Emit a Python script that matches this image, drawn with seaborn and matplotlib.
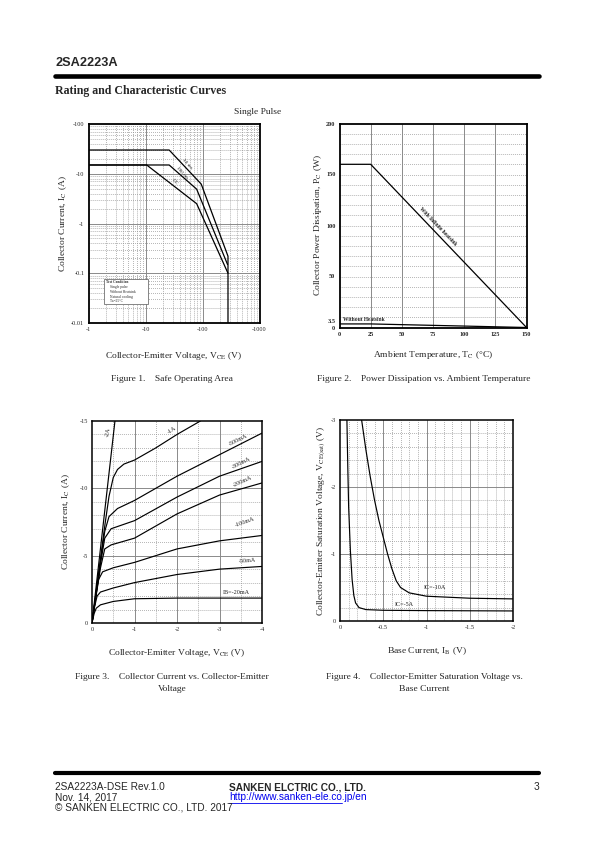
import numpy as np
import pandas as pd
import matplotlib
matplotlib.use("Agg")
import matplotlib.pyplot as plt
import seaborn as sns
from matplotlib.lines import Line2D
from matplotlib.patches import Rectangle

# ---------------- data ----------------
# Figure 1: safe operating area (|VCE| V, |IC| A)
soa_10ms_v = [1, 26, 95, 280, 280]
soa_10ms_i = [30, 30, 6.2, 0.22, 0.01]
soa_100ms_v = [1, 26, 79, 275]
soa_100ms_i = [15, 15, 4.9, 0.15]
soa_dc_v = [1, 10.5, 79, 280]
soa_dc_i = [15, 15, 2.5, 0.1]
soa_xticks = [1, 10, 100, 1000]
soa_xlabels = ["-1", "-10", "-100", "-1000"]
soa_yticks = [0.01, 0.1, 1, 10, 100]
soa_ylabels = ["-0.01", "-0.1", "-1", "-10", "-100"]
soa_conditions = ["Test Condition", "Single pulse", "Without Heatsink", "Natural cooling", "Ta=25°C"]

# Figure 2: power derating
ta = [0, 25, 150]
pc_infinite = [160, 160, 0]
pc_no_sink = [3.5, 3.5, 0]
pc_xticks = [0, 25, 50, 75, 100, 125, 150]
pc_yticks = [0, 3.5, 50, 100, 150, 200]
pc_ylabels = ["0", "3.5", "50", "100", "150", "200"]

# Figure 3: output characteristics (|VCE| V, |IC| A)
ib_2a_v = [0, 0.54]
ib_2a_i = [0, 15]
ib_1a_v = [0, 0.1, 0.2, 0.3, 0.4, 0.5, 0.6, 0.75, 1.0, 1.5, 2.0, 2.55]
ib_1a_i = [0, 2.4, 4.8, 7.2, 9.4, 10.8, 11.4, 11.8, 12.1, 13.0, 14.0, 15.0]
ib_500_v = [0, 0.1, 0.2, 0.3, 0.4, 0.6, 1.0, 2.0, 3.0, 4.0]
ib_500_i = [0, 2.3, 4.6, 6.8, 7.9, 8.5, 9.1, 10.9, 12.5, 14.1]
ib_300_v = [0, 0.1, 0.2, 0.3, 0.45, 1.0, 2.0, 3.0, 4.0]
ib_300_i = [0, 2.2, 4.4, 6.3, 7.0, 7.6, 9.35, 10.9, 12.0]
ib_200_v = [0, 0.1, 0.2, 0.3, 0.45, 1.0, 2.0, 3.0, 4.0]
ib_200_i = [0, 2.1, 4.1, 5.5, 5.8, 6.3, 8.1, 9.5, 10.4]
ib_100_v = [0, 0.08, 0.15, 0.25, 0.5, 1.0, 2.0, 3.0, 4.0]
ib_100_i = [0, 1.8, 3.2, 3.8, 4.1, 4.5, 5.5, 6.1, 6.5]
ib_50_v = [0, 0.06, 0.12, 0.2, 0.5, 1.0, 2.0, 3.0, 4.0]
ib_50_i = [0, 1.2, 2.0, 2.3, 2.6, 3.0, 3.6, 4.0, 4.2]
ib_20_v = [0, 0.05, 0.1, 0.2, 0.5, 1.0, 2.0, 3.0, 4.0]
ib_20_i = [0, 0.7, 1.1, 1.35, 1.6, 1.8, 1.85, 1.85, 1.85]
ib_names = ["-2A", "-1A", "-500mA", "-300mA", "-200mA", "-100mA", "-50mA", "IB=-20mA"]
vce_xlabels = ["0", "-1", "-2", "-3", "-4"]
ic_ylabels = ["0", "-5", "-10", "-15"]

# Figure 4: saturation voltage (|IB| A, |VCE(sat)| V)
sat_5a_ib = [0.08, 0.09, 0.1, 0.12, 0.14, 0.16, 0.18, 0.22, 0.3, 0.5, 1.0, 2.0]
sat_5a_v = [3.0, 2.3, 1.7, 1.05, 0.62, 0.38, 0.27, 0.2, 0.17, 0.16, 0.155, 0.15]
sat_10a_ib = [0.25, 0.3, 0.35, 0.4, 0.45, 0.5, 0.55, 0.6, 0.65, 0.7, 0.8, 1.0, 1.5, 2.0]
sat_10a_v = [3.0, 2.55, 2.15, 1.8, 1.5, 1.25, 1.0, 0.78, 0.6, 0.5, 0.42, 0.37, 0.34, 0.33]
ib_xlabels = ["0", "-0.5", "-1", "-1.5", "-2"]
sat_ylabels = ["0", "-1", "-2", "-3"]

# ---------------- style ----------------
sns.set_style("white")
plt.rcParams["font.family"] = ["Liberation Serif", "DejaVu Serif"]
plt.rcParams["mathtext.fontset"] = "stix"

W, H = 595, 842
fig = plt.figure(figsize=(W / 100, H / 100), dpi=100)
GRID = "#8a8a8a"
DOT = (0, (1, 1.6))
LABEL = 6.8


def page_axes(x0, y0, x1, y1):
    return fig.add_axes([x0 / W, 1 - y1 / H, (x1 - x0) / W, (y1 - y0) / H])


def ftext(x, y, s, **kw):
    fig.text(x / W, 1 - y / H, s, **kw)


def frame(ax, lw=1.0):
    for sp in ax.spines.values():
        sp.set_visible(True)
        sp.set_color("black")
        sp.set_linewidth(lw)
    ax.tick_params(length=0, labelsize=4.5, pad=3)


def curve(ax, x, y, lw=0.9):
    sns.lineplot(x=x, y=y, ax=ax, color="black", lw=lw, sort=False, estimator=None)


# header / footer
ftext(55, 63.5, "2SA2223A", family="Liberation Sans", weight="bold", fontsize=9.2, va="center")
fig.add_artist(Line2D([55 / W, 539 / W], [1 - 75.5 / H] * 2, color="black", lw=3.3))
ftext(55, 91, "Rating and Characteristic Curves", weight="bold", fontsize=8.6, va="center")
fig.add_artist(Line2D([55 / W, 539 / W], [1 - 772.5 / H] * 2, color="black", lw=3.0))
FOOT = dict(family="Liberation Sans", fontsize=7.3, va="center")
ftext(55, 787, "2SA2223A-DSE Rev.1.0", **FOOT)
ftext(55, 797.5, "Nov. 14, 2017", **FOOT)
ftext(55, 808, "© SANKEN ELECTRIC CO., LTD. 2017", **FOOT)
ftext(229, 787, "SANKEN ELCTRIC CO., LTD.", weight="bold", **FOOT)
ftext(229, 797.5, "http://www.sanken-ele.co.jp/en", color="#0000ee", **FOOT)
fig.add_artist(Line2D([229 / W, 342 / W], [1 - 802.5 / H] * 2, color="#0000ee", lw=0.6))
ftext(539, 787, "3", ha="right", **FOOT)

# ---------------- Figure 1 ----------------
ax1 = page_axes(88.5, 124, 259.5, 323)
ax1.set_xscale("log")
ax1.set_yscale("log")
ax1.set_xlim(1, 1000)
ax1.set_ylim(0.01, 100)
for d in [1, 10, 100]:
    for m in range(2, 10):
        ax1.axvline(d * m, color=GRID, lw=0.55, ls=DOT, zorder=0)
    if d > 1:
        ax1.axvline(d, color=GRID, lw=0.7, zorder=0)
for d in [0.01, 0.1, 1, 10]:
    for m in range(2, 10):
        ax1.axhline(d * m, color=GRID, lw=0.55, ls=DOT, zorder=0)
    if d > 0.01:
        ax1.axhline(d, color=GRID, lw=0.7, zorder=0)
curve(ax1, soa_10ms_v, soa_10ms_i)
curve(ax1, soa_100ms_v, soa_100ms_i)
curve(ax1, soa_dc_v, soa_dc_i)
ax1.set_xticks(soa_xticks, soa_xlabels)
ax1.set_yticks(soa_yticks, soa_ylabels)
ax1.minorticks_off()
frame(ax1, 1.3)
for s, xv, yv in [("10 ms", 53, 15.5), ("100 ms", 43, 10.3), ("DC", 33, 6.8)]:
    ax1.text(xv, yv, s, fontsize=3.8, rotation=-47, ha="center", va="center")
ax1.add_patch(Rectangle((0.09, 0.095), 0.26, 0.126, transform=ax1.transAxes,
                        facecolor="white", edgecolor="#555555", lw=0.5, zorder=3))
for k, s in enumerate(soa_conditions):
    ax1.text(0.105 if k == 0 else 0.125, 0.205 - k * 0.024, s, transform=ax1.transAxes,
             fontsize=2.6, va="center", zorder=4, weight="bold" if k == 0 else "normal")
ax1.set_xlabel(r"Collector-Emitter Voltage, V$_{\rm CE}$ (V)", fontsize=LABEL, labelpad=12.5)
ax1.set_ylabel(r"Collector Current, I$_{\rm C}$ (A)", fontsize=LABEL, labelpad=1.5)
ftext(281, 112, "Single Pulse", fontsize=LABEL, ha="right", va="center")
ftext(172, 379, "Figure 1.    Safe Operating Area", fontsize=LABEL, ha="center", va="center")

# ---------------- Figure 2 ----------------
ax2 = page_axes(339.5, 123.5, 526.5, 327.5)
ax2.set_xlim(0, 150)
ax2.set_ylim(0, 200)
for xv in range(25, 150, 25):
    ax2.axvline(xv, color=GRID, lw=0.7, zorder=0)
for yv in range(10, 200, 10):
    ax2.axhline(yv, color=GRID, lw=0.55, ls=DOT, zorder=0)
curve(ax2, ta, pc_infinite, 0.9)
curve(ax2, ta, pc_no_sink, 0.9)
ax2.set_xticks(pc_xticks, [str(v) for v in pc_xticks])
ax2.set_yticks(pc_yticks, pc_ylabels)
frame(ax2, 1.3)
for lab in ax2.get_xticklabels() + ax2.get_yticklabels():
    lab.set_fontweight("bold")
ax2.get_yticklabels()[1].set_va("bottom")
ax2.text(79, 99, "With Infinite heatsink", fontsize=4.0, rotation=-46, ha="center", va="center",
         weight="bold")
ax2.text(3, 7.5, "Without Heatsink", fontsize=4.0, ha="left", va="center", weight="bold")
ax2.set_xlabel(r"Ambient Temperature, T$_{\rm C}$ (°C)", fontsize=LABEL, labelpad=9)
ax2.set_ylabel(r"Collector Power Dissipation, P$_{\rm C}$ (W)", fontsize=LABEL, labelpad=1.5)
ftext(424, 379, "Figure 2.    Power Dissipation vs. Ambient Temperature", fontsize=LABEL,
      ha="center", va="center")

# ---------------- Figure 3 ----------------
ax3 = page_axes(92, 421, 262, 623)
ax3.set_xlim(0, 4)
ax3.set_ylim(0, 15)
for xv in np.arange(0.5, 4, 0.5):
    ax3.axvline(xv, color=GRID, lw=0.7 if xv % 1 == 0 else 0.55, ls="-" if xv % 1 == 0 else DOT, zorder=0)
for yv in range(1, 15):
    ax3.axhline(yv, color=GRID, lw=0.7 if yv % 5 == 0 else 0.55, ls="-" if yv % 5 == 0 else DOT, zorder=0)
for xs, ys in [(ib_2a_v, ib_2a_i), (ib_1a_v, ib_1a_i), (ib_500_v, ib_500_i), (ib_300_v, ib_300_i),
               (ib_200_v, ib_200_i), (ib_100_v, ib_100_i), (ib_50_v, ib_50_i), (ib_20_v, ib_20_i)]:
    curve(ax3, xs, ys, 0.85)
ax3.set_xticks(range(5), vce_xlabels)
ax3.set_yticks([0, 5, 10, 15], ic_ylabels)
frame(ax3, 1.1)
ib_lab_pos = [(0.38, 14.2, 80), (1.88, 14.3, 33), (3.45, 13.6, 27), (3.5, 11.9, 27),
              (3.55, 10.5, 24), (3.6, 7.5, 20), (3.65, 4.6, 5), (3.4, 2.3, 0)]
for s, (xv, yv, r) in zip(ib_names, ib_lab_pos):
    ax3.text(xv, yv, s, fontsize=4.4, rotation=r, ha="center", va="center")
ax3.set_xlabel(r"Collector-Emitter Voltage, V$_{\rm CE}$ (V)", fontsize=LABEL, labelpad=11)
ax3.set_ylabel(r"Collector Current, I$_{\rm C}$ (A)", fontsize=LABEL, labelpad=5.5)
ftext(172, 677, "Figure 3.    Collector Current vs. Collector-Emitter", fontsize=LABEL,
      ha="center", va="center")
ftext(172, 689, "Voltage", fontsize=LABEL, ha="center", va="center")

# ---------------- Figure 4 ----------------
ax4 = page_axes(340, 420, 513, 621)
ax4.set_xlim(0, 2)
ax4.set_ylim(0, 3)
for xv in np.arange(0.1, 2.0, 0.1):
    major = abs(xv * 2 - round(xv * 2)) < 1e-6
    ax4.axvline(xv, color=GRID, lw=0.7 if major else 0.55, ls="-" if major else DOT, zorder=0)
for yv in np.arange(0.2, 3.0, 0.2):
    major = abs(yv - round(yv)) < 1e-6
    ax4.axhline(yv, color=GRID, lw=0.7 if major else 0.55, ls="-" if major else DOT, zorder=0)
curve(ax4, sat_5a_ib, sat_5a_v, 0.85)
curve(ax4, sat_10a_ib, sat_10a_v, 0.85)
ax4.set_xticks([0, 0.5, 1, 1.5, 2], ib_xlabels)
ax4.set_yticks([0, 1, 2, 3], sat_ylabels)
frame(ax4, 1.1)
ax4.text(1.1, 0.5, "IC=-10A", fontsize=4.4, ha="center", va="center")
ax4.text(0.74, 0.25, "IC=-5A", fontsize=4.4, ha="center", va="center")
ax4.set_xlabel(r"Base Current, I$_{\rm B}$ (V)", fontsize=LABEL, labelpad=11)
ax4.set_ylabel(r"Collector-Emitter Saturation Voltage, V$_{\rm CE(sat)}$ (V)", fontsize=LABEL,
               labelpad=2)
ftext(424, 677, "Figure 4.    Collector-Emitter Saturation Voltage vs.", fontsize=LABEL,
      ha="center", va="center")
ftext(424, 689, "Base Current", fontsize=LABEL, ha="center", va="center")

fig.savefig("out.png", dpi=100)
